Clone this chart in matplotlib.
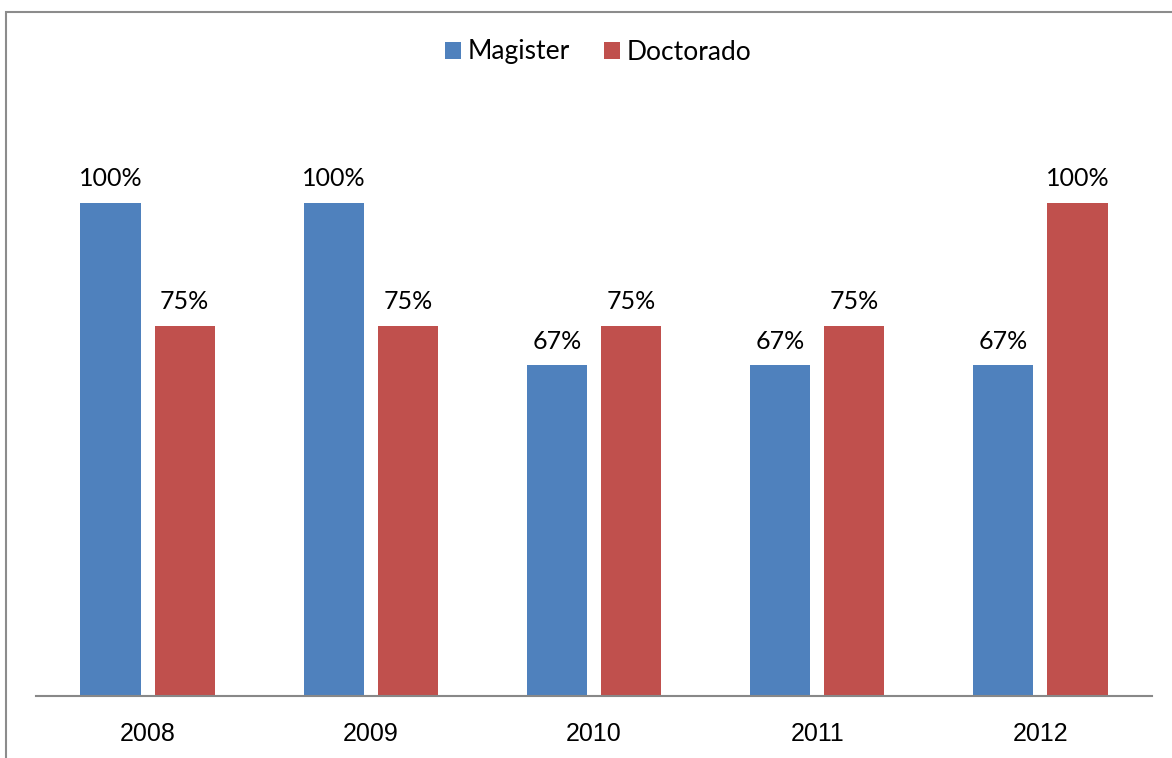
import matplotlib
matplotlib.use("Agg")
import matplotlib.pyplot as plt
import numpy as np
from matplotlib.patches import Rectangle

years = ["2008", "2009", "2010", "2011", "2012"]
magister = [1.00, 1.00, 0.67, 0.67, 0.67]
doctorado = [0.75, 0.75, 0.75, 0.75, 1.00]

W, H = 1172, 758
fig = plt.figure(figsize=(W / 100, H / 100), dpi=100)
ax = fig.add_axes([36 / W, 1 - 696 / H, (1152 - 36) / W, (696 - 104) / H])

x = np.arange(len(years))
bw = 0.27
off = 0.166
b1 = ax.bar(x - off, magister, bw, color="#4f81bd", label="Magister")
b2 = ax.bar(x + off, doctorado, bw, color="#c0504d", label="Doctorado")

label_font = ["Lato", "DejaVu Sans"]
for bars, vals in ((b1, magister), (b2, doctorado)):
    for rect, v in zip(bars, vals):
        ax.annotate(f"{v:.0%}", (rect.get_x() + rect.get_width() / 2, v),
                    xytext=(0, 9), textcoords="offset points",
                    ha="center", va="bottom", fontsize=18, family=label_font)

ax.set_xlim(-0.5, len(years) - 0.5)
ax.set_ylim(0, 1.2)
ax.set_xticks(x)
ax.set_xticklabels(years, fontsize=18, family="Liberation Sans")
ax.tick_params(axis="x", length=0, pad=19)
ax.set_yticks([])
for s in ("top", "right", "left"):
    ax.spines[s].set_visible(False)
ax.spines["bottom"].set_color("#888888")
ax.spines["bottom"].set_linewidth(1.5)

fig.legend(handles=[b1, b2], loc="center", bbox_to_anchor=(598 / W, 1 - 52 / H),
           ncol=2, frameon=False, handlelength=0.6, handleheight=0.6,
           handletextpad=0.25, columnspacing=1.3,
           prop={"family": label_font, "size": 19})

# outer chart border (runs off the right and bottom edges)
fig.patches.append(Rectangle((6 / W, -0.1), 1.2, 1 - 12 / H + 0.1,
                             transform=fig.transFigure, fill=False,
                             edgecolor="#8c8c8c", linewidth=1.5))

fig.savefig("out.png", dpi=100)
